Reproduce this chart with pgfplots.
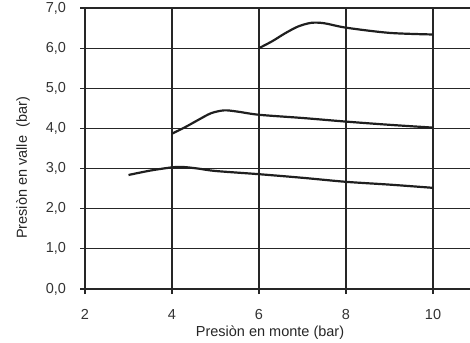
\documentclass[border=0pt]{standalone}
\usepackage{fontspec}
\setmainfont{Liberation Sans}
\usepackage{pgfplots}
\pgfplotsset{compat=1.18}
\begin{document}
\fontsize{14.5}{17}\selectfont
\begin{tikzpicture}
\begin{axis}[
  at={(0,0)}, anchor=south west,
  scale only axis, width=385pt, height=281pt,
  xmin=2, xmax=10.85, ymin=0, ymax=7,
  axis line style={draw=none},
  xtick pos=bottom, ytick pos=left,
  tick align=outside, major tick length=5pt,
  tick style={draw=black!85, line width=1.2pt},
  grid=major,
  grid style={draw=black!85, line width=1.2pt},
  xtick={2,4,6,8,10}, ytick={0,1,2,3,4,5,6,7},
  ticklabel style={font=\fontsize{14.5}{17}\selectfont, text=black!80},
  /pgf/number format/assume math mode=true,
  y tick label style={xshift=-9pt, /pgf/number format/.cd, fixed, fixed zerofill, precision=1, use comma},
  x tick label style={yshift=-10pt, /pgf/number format/.cd, fixed, precision=0},
  xlabel={Presiòn en monte (bar)},
  ylabel={Presiòn en valle\ \ (bar)},
  label style={font=\fontsize{14.5}{17}\selectfont, text=black!85},
  xlabel style={at={(axis description cs:0.4805,-0.155)}, anchor=center},
  ylabel style={at={(axis description cs:-0.161,0.4306)}, anchor=center},
  clip=false,
]
\addplot[smooth, tension=0.5, line width=2.2pt, color=black!88] coordinates {
(3,2.84) (3.5,2.95) (4,3.03) (4.25,3.04) (4.6,3.00) (5,2.94) (6,2.86) (7,2.77) (8,2.67) (9,2.60) (10,2.52)};
\addplot[smooth, tension=0.5, line width=2.2pt, color=black!88] coordinates {
(4,3.87) (4.3,4.03) (4.6,4.21) (4.9,4.38) (5.2,4.45) (5.5,4.42) (6,4.34) (7,4.26) (8,4.17) (9,4.09) (10,4.02)};
\addplot[smooth, tension=0.5, line width=2.2pt, color=black!88] coordinates {
(6,6.0) (6.3,6.17) (6.6,6.37) (6.9,6.54) (7.2,6.63) (7.5,6.62) (8,6.51) (9,6.38) (10,6.34)};
\end{axis}
\pgfresetboundingbox
\path[use as bounding box] (-85pt,-53pt) rectangle (385pt,289pt);
\end{tikzpicture}
\end{document}
